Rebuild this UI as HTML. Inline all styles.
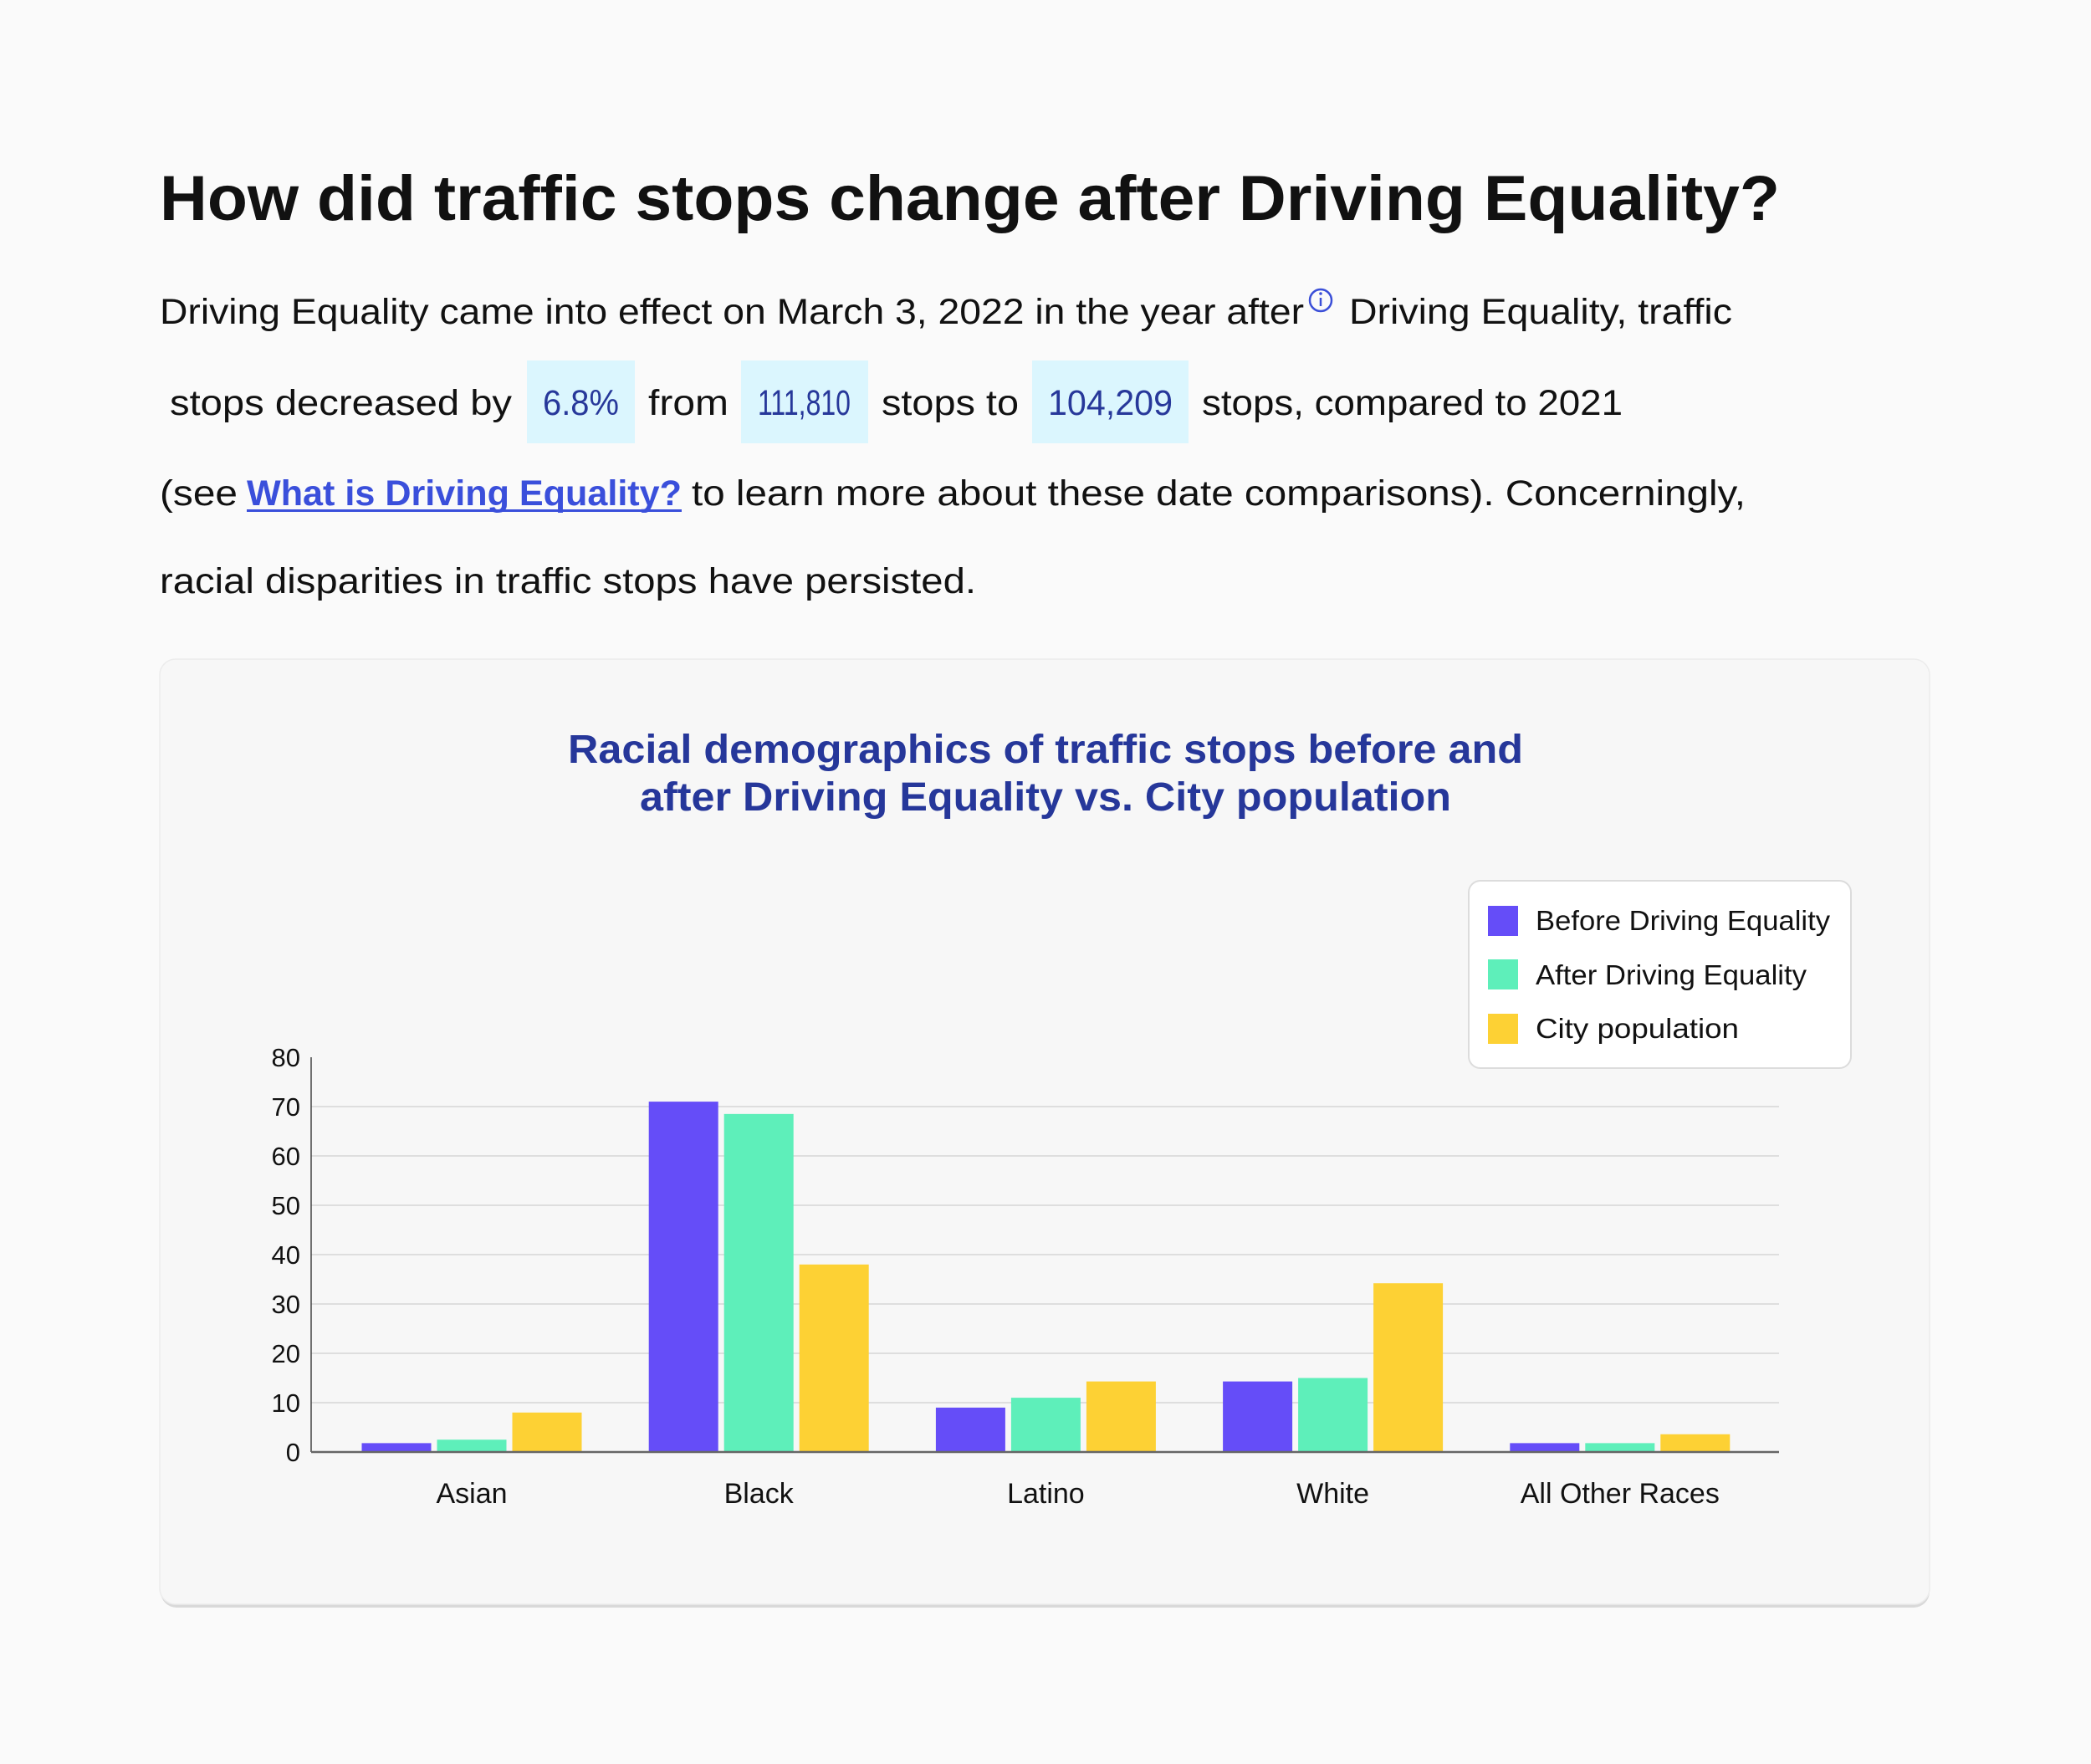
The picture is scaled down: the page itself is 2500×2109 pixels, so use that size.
<!DOCTYPE html>
<html><head><meta charset="utf-8"><style>
html,body{margin:0;padding:0;background:#fafafa;}
svg{display:block;font-family:"Liberation Sans",sans-serif;}
</style></head><body>
<svg id="root" width="2500" height="2109" viewBox="0 0 2500 2109" xmlns="http://www.w3.org/2000/svg">
<rect x="0" y="0" width="2500" height="2109" fill="#fafafa"/>
<text x="191" y="263" font-size="76" font-weight="bold" fill="#111" textLength="1937" lengthAdjust="spacingAndGlyphs">How did traffic stops change after Driving Equality?</text>
<g font-size="43" fill="#111">
<text x="191" y="387" textLength="1368" lengthAdjust="spacingAndGlyphs">Driving Equality came into effect on March 3, 2022 in the year after</text>
<g><circle cx="1579" cy="359" r="13" fill="none" stroke="#3b4fd8" stroke-width="2.5"/><line x1="1579" y1="356" x2="1579" y2="366" stroke="#3b4fd8" stroke-width="2.5"/><circle cx="1579" cy="351" r="1.8" fill="#3b4fd8"/></g>
<text x="1613" y="387" textLength="458" lengthAdjust="spacingAndGlyphs">Driving Equality, traffic</text>
<rect x="630" y="431" width="129" height="99" fill="#dbf6fe"/>
<rect x="886" y="431" width="152" height="99" fill="#dbf6fe"/>
<rect x="1234" y="431" width="187" height="99" fill="#dbf6fe"/>
<text x="203" y="496" textLength="409" lengthAdjust="spacingAndGlyphs">stops decreased by</text>
<text x="649" y="496" fill="#27389a" textLength="91" lengthAdjust="spacingAndGlyphs">6.8%</text>
<text x="775" y="496" textLength="96" lengthAdjust="spacingAndGlyphs">from</text>
<text x="906" y="496" fill="#27389a" textLength="111" lengthAdjust="spacingAndGlyphs">111,810</text>
<text x="1054" y="496" textLength="164" lengthAdjust="spacingAndGlyphs">stops to</text>
<text x="1253" y="496" fill="#27389a" textLength="149" lengthAdjust="spacingAndGlyphs">104,209</text>
<text x="1437" y="496" textLength="503" lengthAdjust="spacingAndGlyphs">stops, compared to 2021</text>
<text x="191" y="604" textLength="93" lengthAdjust="spacingAndGlyphs">(see</text>
<text x="295" y="604" fill="#3a4fdb" font-weight="bold" textLength="520" lengthAdjust="spacingAndGlyphs">What is Driving Equality?</text>
<rect x="295" y="609" width="520" height="3" fill="#3a4fdb"/>
<text x="827" y="604" textLength="1260" lengthAdjust="spacingAndGlyphs">to learn more about these date comparisons). Concerningly,</text>
<text x="191" y="709" textLength="976" lengthAdjust="spacingAndGlyphs">racial disparities in traffic stops have persisted.</text>
</g>
<rect x="192" y="792" width="2115" height="1130" rx="19" fill="#d9d9d9"/>
<rect x="191" y="788" width="2116" height="1130" rx="19" fill="#f7f7f7" stroke="#ececec" stroke-width="1.5"/>
<text x="679" y="912" font-size="48" font-weight="bold" fill="#26379a" textLength="1142" lengthAdjust="spacingAndGlyphs">Racial demographics of traffic stops before and</text>
<text x="765" y="969" font-size="48" font-weight="bold" fill="#26379a" textLength="970" lengthAdjust="spacingAndGlyphs">after Driving Equality vs. City population</text>
<g id="plot"></g>
<g>
<rect x="1756" y="1053" width="457" height="224" rx="14" fill="#fff" stroke="#dcdcdc" stroke-width="2"/>
<g><rect x="1779" y="1083" width="36" height="36" fill="#654df8"/><text x="1836" y="1112" font-size="33" fill="#111" textLength="352" lengthAdjust="spacingAndGlyphs">Before Driving Equality</text></g>
<g><rect x="1779" y="1147" width="36" height="36" fill="#5eefba"/><text x="1836" y="1177" font-size="33" fill="#111" textLength="324" lengthAdjust="spacingAndGlyphs">After Driving Equality</text></g>
<g><rect x="1779" y="1212" width="36" height="36" fill="#fdd134"/><text x="1836" y="1241" font-size="33" fill="#111" textLength="243" lengthAdjust="spacingAndGlyphs">City population</text></g>
</g>
</svg>
<script>
const categories = ["Asian", "Black", "Latino", "White", "All Other Races"];
const beforeValues = [1.8, 71, 9, 14.3, 1.8];
const afterValues = [2.5, 68.5, 11, 15, 1.8];
const populationValues = [8, 38, 14.3, 34.2, 3.6];
const yTicks = [0, 10, 20, 30, 40, 50, 60, 70, 80];

const NS = "http://www.w3.org/2000/svg";
const plot = document.getElementById("plot");
const x0 = 372, x1 = 2127, yBase = 1736, yTop = 1264, yMax = 80;
const yScale = v => yBase - (v / yMax) * (yBase - yTop);
const band = 343.2, firstCenter = 564;
const xCenter = i => firstCenter + band * i;
function mk(tag, attrs) { const e = document.createElementNS(NS, tag); for (const k in attrs) e.setAttribute(k, attrs[k]); plot.appendChild(e); return e; }

yTicks.forEach(t => {
  const y = yScale(t);
  if (t > 0 && t < yMax) {
    const g = mk("line", {x1: x0, x2: x1, y1: y, y2: y, stroke: "#dedede", "stroke-width": 2});
    
    
  }
  const lb = mk("text", {x: 359, y: y + 11, "font-size": 31, fill: "#111", "text-anchor": "end"});
  lb.textContent = t;
  
  
});
const ya = mk("line", {x1: x0, x2: x0, y1: yTop, y2: yBase, stroke: "#444", "stroke-width": 1.5});



const series = [beforeValues, afterValues, populationValues];
const colors = ["#654df8", "#5eefba", "#fdd134"];
const names = ["before", "after", "population"];
const barW = 83, gap = 7;
categories.forEach((c, i) => {
  const cx = xCenter(i);
  const gw = barW * 3 + gap * 2;
  series.forEach((s, j) => {
    const bx = cx - gw / 2 + j * (barW + gap);
    const y = yScale(s[i]);
    const r = mk("rect", {x: bx, y: y, width: barW, height: yBase - y, fill: colors[j]});
    
    
  });
  const t = mk("text", {x: cx, y: 1797, "font-size": 34, fill: "#111", "text-anchor": "middle"});
  t.textContent = c;
  
  
});
const xa = mk("line", {x1: x0, x2: x1, y1: yBase, y2: yBase, stroke: "#666", "stroke-width": 2.5});


</script>
</body></html>
